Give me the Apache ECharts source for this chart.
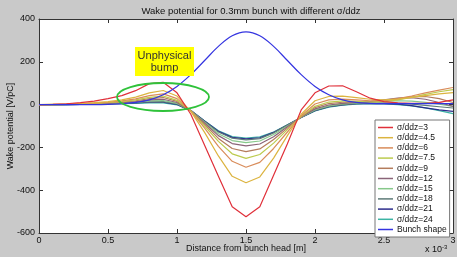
<!DOCTYPE html>
<html>
<head>
<meta charset="utf-8">
<style>
  html, body { margin: 0; padding: 0; background: #c9c9c9; }
  #chart { width: 457px; height: 257px; }
</style>
<script src="https://cdn.jsdelivr.net/npm/echarts@6/dist/echarts.min.js"></script>
</head>
<body>
<div id="chart"></div>
<script>
// distance from bunch head, in units of 1e-3 m
var xs = [0, 0.1, 0.2, 0.3, 0.4, 0.5, 0.6, 0.7, 0.8, 0.9, 1.0, 1.1, 1.2, 1.3, 1.4, 1.5,
  1.6, 1.7, 1.8, 1.9, 2.0, 2.1, 2.2, 2.3, 2.4, 2.5, 2.6, 2.7, 2.8, 2.9, 3.0];

var names = ['σ/ddz=3', 'σ/ddz=4.5', 'σ/ddz=6', 'σ/ddz=7.5', 'σ/ddz=9', 'σ/ddz=12',
  'σ/ddz=15', 'σ/ddz=18', 'σ/ddz=21', 'σ/ddz=24', 'Bunch shape'];
var colors = ['#e0303a', '#dcb440', '#d98c5a', '#bccb4e', '#b47c5c', '#8a6478',
  '#86c88a', '#5e7a78', '#2c2c8c', '#3cb4a4', '#3434e0'];

var w3 = [0, 1, 4, 9, 16, 28, 42, 65, 98, 104, 55, -45, -190, -335, -477, -524,
  -477, -330, -183, -25, 55, 87, 88, 60, 30, 14, 8, 6, 6, 10, 22];
var w4_5 = [0, 1, 2, 5, 9, 14, 22, 35, 55, 66, 40, -32, -130, -240, -335, -365,
  -338, -250, -145, -45, 18, 38, 40, 33, 25, 22, 26, 34, 42, 50, 56];
var w6 = [0, 1, 2, 4, 7, 11, 17, 27, 42, 50, 28, -30, -110, -195, -265, -293,
  -270, -205, -128, -52, 3, 22, 26, 22, 18, 20, 28, 40, 55, 68, 80];
var w7_5 = [0, 0, 1, 3, 6, 9, 14, 22, 34, 40, 20, -30, -100, -172, -230, -251,
  -233, -180, -117, -55, -8, 12, 17, 15, 12, 14, 22, 34, 48, 60, 70];
var w9 = [0, 0, 1, 3, 5, 8, 12, 18, 28, 33, 15, -30, -92, -158, -205, -220,
  -207, -163, -110, -57, -14, 5, 11, 12, 12, 18, 28, 36, 38, 28, 10];
var w12 = [0, 0, 1, 2, 4, 6, 9, 14, 22, 25, 10, -30, -86, -145, -182, -193,
  -184, -150, -104, -58, -20, -2, 6, 10, 14, 22, 30, 32, 25, 10, -8];
var w15 = [0, 0, 1, 2, 3, 5, 8, 12, 17, 19, 6, -29, -82, -136, -168, -178,
  -170, -140, -100, -59, -24, -6, 3, 8, 12, 16, 18, 16, 10, 2, -8];
var w18 = [0, 0, 0, 1, 2, 4, 6, 9, 13, 14, 3, -28, -79, -128, -157, -165,
  -159, -132, -96, -59, -27, -9, 0, 5, 7, 8, 6, 2, -4, -10, -16];
var w21 = [0, 0, 0, 1, 2, 3, 5, 8, 11, 11, 1, -28, -77, -125, -153, -160,
  -155, -130, -95, -60, -28, -10, -1, 4, 6, 5, 2, -5, -15, -25, -32];
var w24 = [0, 0, 0, 1, 2, 3, 4, 6, 8, 8, -1, -28, -76, -122, -149, -156,
  -151, -128, -94, -60, -30, -12, -3, 2, 4, 3, 0, -6, -15, -28, -42];
var bunch = [0, 0, 0, 0, 0, 1, 4, 10, 22, 46, 85, 140, 206, 272, 322, 340,
  322, 272, 206, 140, 85, 46, 22, 10, 6, 5, 5, 5, 5, 5, 5];

var yTicks = [-600, -400, -200, 0, 200, 400];

var allData = [w3, w4_5, w6, w7_5, w9, w12, w15, w18, w21, w24, bunch];

var chart = echarts.init(document.getElementById('chart'), null, { renderer: 'canvas' });

var series = allData.map(function (vals, i) {
  return {
    name: names[i],
    type: 'line',
    data: vals.map(function (v, j) { return [xs[j], v]; }),
    symbol: 'none',
    smooth: i === 10 ? 0.4 : false,
    lineStyle: { width: 1.2, color: colors[i] },
    itemStyle: { color: colors[i] },
    z: i === 10 ? 3 : 2 + (10 - i) * 0.01,
    animation: false
  };
});

var txt = { color: '#111', fontFamily: 'Liberation Sans', fontSize: 9 };
var tickStyle = { show: true, inside: true, length: 4, lineStyle: { color: '#333', width: 1 } };
var lineStyle = { show: true, onZero: false, lineStyle: { color: '#333', width: 1 } };

var option = {
  backgroundColor: '#c9c9c9',
  animation: false,
  title: {
    text: 'Wake potential for 0.3mm bunch with different σ/ddz',
    left: 246,
    textAlign: 'center',
    top: 1,
    textStyle: { color: '#111', fontFamily: 'Liberation Sans', fontSize: 9.5, fontWeight: 'normal' }
  },
  grid: {
    left: 39, right: 4, top: 19, bottom: 24,
    containLabel: false, outerBoundsMode: 'none',
    show: true, backgroundColor: '#ffffff', borderWidth: 0
  },
  legend: {
    data: names,
    orient: 'vertical',
    left: 375,
    top: 120,
    padding: [3, 3, 3, 3],
    icon: 'rect',
    itemWidth: 15,
    itemHeight: 1.5,
    itemGap: 1.2,
    backgroundColor: '#ffffff',
    borderColor: '#777',
    borderWidth: 1,
    textStyle: { color: '#111', fontFamily: 'Liberation Sans', fontSize: 8.5, lineHeight: 8.4, padding: [0, 0, 0, -1] }
  },
  xAxis: [{
    type: 'value', min: 0, max: 3, interval: 0.5,
    name: 'Distance from bunch head [m]',
    nameLocation: 'middle', nameGap: 11, nameMoveOverlap: false,
    nameTextStyle: txt,
    axisLine: lineStyle, axisTick: tickStyle,
    axisLabel: Object.assign({ margin: 3 }, txt),
    splitLine: { show: false }
  }, {
    type: 'value', min: 0, max: 3, interval: 0.5, position: 'top',
    axisLine: lineStyle, axisTick: tickStyle,
    axisLabel: { show: false }, splitLine: { show: false }
  }],
  yAxis: [{
    type: 'value', min: yTicks[0], max: yTicks[yTicks.length - 1], interval: 200,
    name: 'Wake potential [V/pC]',
    nameLocation: 'middle', nameGap: 24, nameMoveOverlap: false,
    nameTextStyle: txt,
    axisLine: lineStyle, axisTick: tickStyle,
    axisLabel: Object.assign({ margin: 4 }, txt),
    splitLine: { show: false }
  }, {
    type: 'value', min: yTicks[0], max: yTicks[yTicks.length - 1], interval: 200, position: 'right',
    axisLine: lineStyle, axisTick: tickStyle,
    axisLabel: { show: false }, splitLine: { show: false }
  }],
  graphic: [
    {
      type: 'rect', left: 135, top: 47, z: 100,
      shape: { width: 59, height: 29 },
      style: { fill: '#ffff00' }
    },
    {
      type: 'text', x: 164.5, y: 50, z: 101,
      style: {
        text: 'Unphysical\nbump', fill: '#333', font: '11px Liberation Sans',
        lineHeight: 12, align: 'center'
      }
    },
    {
      type: 'ellipse', z: 100,
      shape: { cx: 163, cy: 97, rx: 46, ry: 14 },
      style: { fill: 'none', stroke: '#2fc23a', lineWidth: 1.8 }
    },
    {
      type: 'text', left: 425, top: 244, z: 100,
      style: {
        text: 'x 10{s|-3}',
        fill: '#111', font: '9px Liberation Sans',
        rich: { s: { fontSize: 6, verticalAlign: 'top', padding: [0, 0, 6, 0], fontFamily: 'Liberation Sans', fill: '#111' } }
      }
    }
  ],
  series: series
};

chart.setOption(option);
</script>
</body>
</html>
